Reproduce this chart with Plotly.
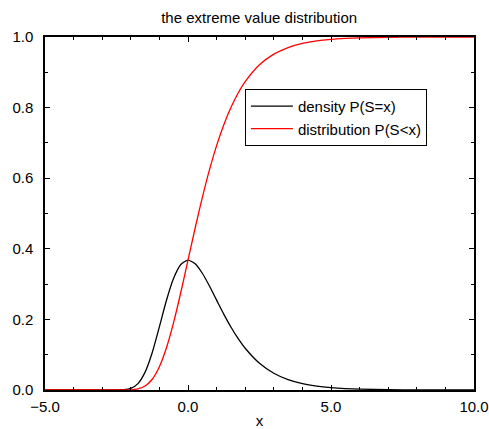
import plotly.graph_objects as go

# values
x_vals = [-5.0, -3.0, -2.5, -2.25, -2.0, -1.75, -1.5, -1.25, -1.0, -0.75, -0.5, -0.25,
          0.0, 0.25, 0.5, 0.75, 1.0, 1.25, 1.5, 1.75, 2.0, 2.5, 3.0, 3.5, 4.0, 4.5,
          5.0, 5.5, 6.0, 7.0, 8.0, 10.0]
density = [0.0, 0.0, 0.0001, 0.0007, 0.0046, 0.0182, 0.0507, 0.1064, 0.1794, 0.2549, 0.3171, 0.3556,
           0.3679, 0.3574, 0.3307, 0.2945, 0.2546, 0.2151, 0.1785, 0.1461, 0.1182, 0.0756, 0.0474, 0.0293, 0.0180, 0.0110,
           0.0067, 0.0041, 0.0025, 0.0009, 0.0003, 0.0]
distribution = [0.0, 0.0, 0.0000, 0.0001, 0.0006, 0.0032, 0.0113, 0.0305, 0.0660, 0.1204, 0.1923, 0.2769,
                0.3679, 0.4589, 0.5452, 0.6235, 0.6922, 0.7509, 0.8000, 0.8405, 0.8734, 0.9212, 0.9514, 0.9702, 0.9819, 0.9890,
                0.9933, 0.9959, 0.9975, 0.9991, 0.9997, 1.0]
series_names = ["density P(S=x)", "distribution P(S<x)"]
title_text = "the extreme value distribution"
x_title = "x"

font_family = "Liberation Sans, Arial, Helvetica, sans-serif"
fs = 15

fig = go.Figure()
fig.add_trace(go.Scatter(x=x_vals, y=density, mode="lines", name=series_names[0],
                         line=dict(color="black", width=1.3, shape="spline", smoothing=0.6)))
fig.add_trace(go.Scatter(x=x_vals, y=distribution, mode="lines", name=series_names[1],
                         line=dict(color="red", width=1.3, shape="spline", smoothing=0.6)))

axis_common = dict(
    showgrid=False, zeroline=False, showline=True, linecolor="black", linewidth=1.5,
    mirror="allticks", ticks="inside", ticklen=5, tickwidth=1, tickcolor="black",
    tickformat=".1f", tickfont=dict(family=font_family, size=fs, color="black"),
    automargin=False,
)

fig.update_xaxes(range=[-5, 10], tick0=-5, dtick=5,
                 minor=dict(dtick=1, ticks="inside", ticklen=3, tickcolor="black", tickwidth=1),
                 ticklabelstandoff=2,
                 title=dict(text=x_title, font=dict(family=font_family, size=fs, color="black"), standoff=6),
                 **axis_common)
fig.update_yaxes(range=[0, 1], tick0=0, dtick=0.2,
                 minor=dict(dtick=0.1, ticks="inside", ticklen=3, tickcolor="black", tickwidth=1),
                 ticklabelstandoff=7,
                 **axis_common)

fig.update_layout(
    width=489, height=429,
    margin=dict(l=45, r=15, t=37, b=39),
    paper_bgcolor="white", plot_bgcolor="white",
    title=dict(text=title_text, x=0.53, xanchor="center", y=0.958, yanchor="middle",
               yref="container", automargin=False,
               font=dict(family=font_family, size=fs, color="black")),
    legend=dict(x=0.466, y=0.853, xanchor="left", yanchor="top",
                bgcolor="white", bordercolor="black", borderwidth=1,
                font=dict(family=font_family, size=fs, color="black"),
                itemwidth=42, tracegroupgap=0),
    showlegend=True,
)

fig.write_html("out.html",
               config={"displayModeBar": False},
               post_script="document.body.style.margin='0';document.body.style.overflow='hidden';")
